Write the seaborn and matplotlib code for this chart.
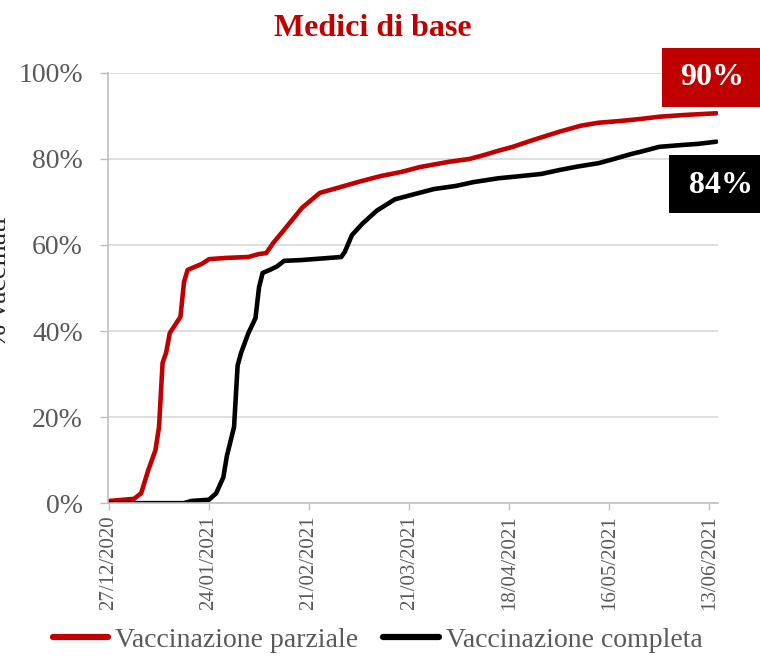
import seaborn as sns
import matplotlib.pyplot as plt
import matplotlib.dates as mdates
import pandas as pd
from matplotlib.patches import Rectangle

# days since 27/12/2020 and share vaccinated (%)
start = pd.Timestamp('2020-12-27')
parz_days = [0, 7, 9, 11, 13, 14, 15, 16, 17, 20, 21, 22, 26, 28, 33, 39, 42, 44, 46, 49,
             54, 59, 65, 70, 76, 82, 87, 95, 101, 105, 109, 113, 118, 121, 126, 132, 137,
             143, 149, 154, 161, 170]
parz_vals = [0.5, 1.0, 2.3, 7.7, 12.3, 17.7, 32.6, 35, 39.5, 43.3, 51.4, 54.2, 55.6, 56.7,
             57.0, 57.2, 57.9, 58.1, 60.5, 63.5, 68.6, 72.1, 73.5, 74.7, 76.0, 77.0, 78.1,
             79.3, 80.0, 80.9, 81.9, 82.8, 84.2, 85.0, 86.3, 87.7, 88.4, 88.8, 89.3, 89.8,
             90.2, 90.6]
comp_days = [0, 21, 23, 28, 30, 32, 33, 35, 36, 37, 39, 41, 42, 43, 45, 47, 49, 54, 65, 66,
             68, 71, 75, 80, 85, 91, 97, 102, 109, 114, 121, 126, 131, 137, 141, 146, 149,
             154, 160, 165, 170]
comp_vals = [0, 0, 0.5, 0.8, 2.3, 6.0, 11.0, 17.7, 32.0, 35.0, 39.5, 43.0, 50.2, 53.5, 54.2,
             55.0, 56.3, 56.5, 57.2, 58.4, 62.3, 65.0, 68.0, 70.6, 71.7, 73.0, 73.7, 74.6,
             75.5, 75.9, 76.5, 77.4, 78.2, 79.0, 79.9, 81.1, 81.7, 82.8, 83.2, 83.5, 84.0]
series = ['Vaccinazione parziale', 'Vaccinazione completa']
colors = ['#C00000', '#000000']
end_labels = ['90%', '84%']

df = pd.concat([
    pd.DataFrame({'data': start + pd.to_timedelta(parz_days, unit='D'),
                  'valore': parz_vals, 'serie': series[0]}),
    pd.DataFrame({'data': start + pd.to_timedelta(comp_days, unit='D'),
                  'valore': comp_vals, 'serie': series[1]}),
])

sns.set_style('white')
plt.rcParams['font.family'] = ['Liberation Serif', 'DejaVu Serif']

fig = plt.figure(figsize=(7.6, 6.56), dpi=100)
ax = fig.add_axes([0.142, 0.233, 0.803, 0.656])
sns.lineplot(data=df, x='data', y='valore', hue='serie', palette=colors,
             linewidth=3.3, ax=ax, legend=True)

ax.set_ylim(0, 100)
ax.set_xlim(start - pd.Timedelta(days=0.3), start + pd.Timedelta(days=170.5))
ax.set_yticks(range(0, 101, 20))
ax.set_yticklabels([f'{v}%' for v in range(0, 101, 20)])
ticks = [start + pd.Timedelta(days=28 * i) for i in range(7)]
ax.set_xticks(ticks)
ax.xaxis.set_major_formatter(mdates.DateFormatter('%d/%m/%Y'))
ax.tick_params(axis='x', labelrotation=90, labelsize=15, labelcolor='#595959',
               color='#BFBFBF', length=5, width=1, direction='out', bottom=True, pad=4)
ax.tick_params(axis='y', labelsize=20, labelcolor='#595959', color='#BFBFBF',
               length=6, width=1, left=True, pad=12)
ax.grid(axis='y', color='#D9D9D9', linewidth=1.2)
for s in ['top', 'right']:
    ax.spines[s].set_visible(False)
for s in ['left', 'bottom']:
    ax.spines[s].set_color('#BFBFBF')
    ax.spines[s].set_linewidth(1.2)
ax.set_xlabel('')
ax.set_ylabel('')

fig.text(0.0, 0.57, '% vaccinati', rotation=90, ha='center', va='center', fontsize=20)
fig.text(0.49, 0.957, 'Medici di base', ha='center', va='center', fontsize=23,
         fontweight='bold', color='#C00000')

# end-value boxes
fig.patches.append(Rectangle((0.871, 0.837), 0.129, 0.090, transform=fig.transFigure,
                             fc=colors[0], ec='none'))
fig.patches.append(Rectangle((0.880, 0.675), 0.120, 0.088, transform=fig.transFigure,
                             fc=colors[1], ec='none'))
fig.text(0.937, 0.882, end_labels[0], ha='center', va='center', fontsize=23,
         fontweight='bold', color='white')
fig.text(0.949, 0.717, end_labels[1], ha='center', va='center', fontsize=23,
         fontweight='bold', color='white')

leg = ax.legend(loc='center', bbox_to_anchor=(0.442, -0.318), ncol=2, frameon=False,
                fontsize=20, handlelength=2.0, handletextpad=0.25, columnspacing=0.9)
for t in leg.get_texts():
    t.set_color('#595959')
for h in leg.get_lines():
    h.set_linewidth(4.5)

fig.savefig('out.png', dpi=100)
